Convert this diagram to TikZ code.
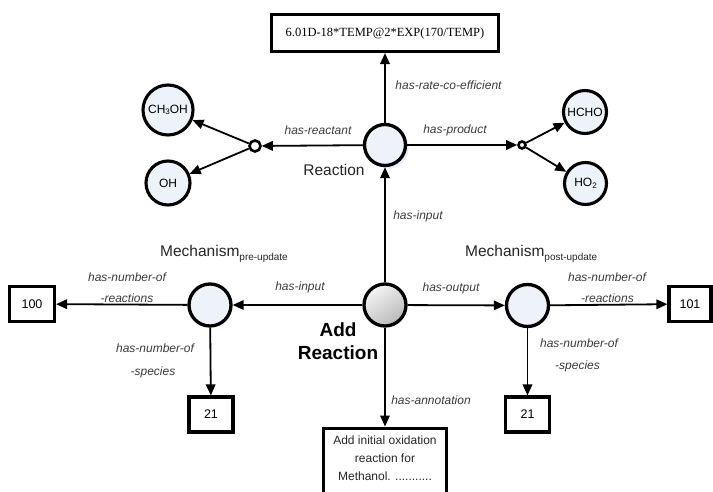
\documentclass[tikz,border=0pt]{standalone}
\usepackage{fontspec}
\setmainfont{Liberation Sans}
\newfontfamily\timesfont{Liberation Serif}
\usetikzlibrary{arrows.meta,shadows}
\definecolor{circfill}{RGB}{238,242,249}
\definecolor{labgray}{RGB}{60,60,60}
\begin{document}
\begin{tikzpicture}[x=1pt,y=-1pt,
  ent/.style={circle,draw,line width=3.3pt,fill=circfill,inner sep=0pt},
  chem/.style={circle,draw,line width=3.1pt,fill=circfill,inner sep=0pt,font=\fontsize{12}{14}\selectfont},
  junc/.style={circle,draw,line width=2.6pt,fill=white,inner sep=0pt},
  valbox/.style={rectangle,draw,line width=3.1pt,fill=white,inner sep=0pt,font=\fontsize{12.5}{15}\selectfont},
  arr/.style={line width=1.8pt,-{Triangle[length=11pt,width=9.5pt]}},
  rel/.style={font=\fontsize{12}{14}\selectfont\itshape,text=labgray,inner sep=0pt},
  title/.style={font=\fontsize{15.5}{18}\selectfont,text=black!85,inner sep=0pt}
]
\useasboundingbox (0,0) rectangle (713,492);
\clip (0,0) rectangle (713,492);
\fill[white] (0,0) rectangle (713,492);

% nodes
\node[valbox,minimum width=227,minimum height=37,font=\timesfont\fontsize{12.5}{15}\selectfont] (rate) at (385,33) {6.01D-18*TEMP@2*EXP(170/TEMP)};
\node[ent,minimum size=41,drop shadow={fill=blue!14,opacity=0.6,shadow xshift=3pt,shadow yshift=-3pt}] (reac) at (385,145) {};
\node[title] (reaclab) at (334,170) {Reaction};
\node[junc,minimum size=11] (jl) at (255,146) {};
\node[junc,minimum size=7] (jr) at (522,145) {};
\node[chem,minimum size=50] (ch3oh) at (168,110) {CH\raisebox{-1.5pt}{\fontsize{8}{9}\selectfont 3}OH};
\node[chem,minimum size=44] (oh) at (168,183) {OH};
\node[chem,minimum size=43] (hcho) at (585,112) {HCHO};
\node[chem,minimum size=42] (ho2) at (585.5,183.5) {HO\raisebox{-1.5pt}{\fontsize{8}{9}\selectfont 2}};

\node[circle,draw,line width=3.3pt,inner sep=0pt,minimum size=42,shading=axis,top color=gray!8,bottom color=gray!55,shading angle=35] (addr) at (385,305) {};
\node[font=\fontsize{19}{23}\selectfont\bfseries,align=center,inner sep=0pt] (addlab) at (338,341) {Add\\Reaction};

\node[ent,minimum size=42] (mpre) at (210,305) {};
\node[ent,minimum size=42] (mpost) at (527.5,305.5) {};
\node[title,anchor=base west] (mprelab) at (160,257) {Mechanism\raisebox{-4pt}{\fontsize{10}{12}\selectfont pre-update}};
\node[title,anchor=base west] (mpostlab) at (465,257) {Mechanism\raisebox{-4pt}{\fontsize{10}{12}\selectfont post-update}};

\node[valbox,minimum width=45,minimum height=35] (b100) at (32,304) {100};
\node[valbox,minimum width=42,minimum height=35] (b101) at (690,304) {101};
\node[valbox,minimum width=44,minimum height=35] (b21a) at (211,414.5) {21};
\node[valbox,minimum width=44,minimum height=35] (b21b) at (527.5,414.5) {21};

\node[rectangle,draw,line width=3.1pt,fill=white,minimum width=123,minimum height=100,anchor=north,inner sep=0pt] (annot) at (385,426.5) {};
\node[align=center,anchor=north,inner sep=0pt,font=\fontsize{12}{18}\selectfont,text=black!85] (annottext) at (385,436) {Add initial oxidation\\reaction for\\Methanol. ...........};

% connectors
\draw[arr] (reac) -- (rate);
\draw[arr] (addr) -- (reac);
\draw[arr] (reac) -- (jl);
\draw[arr] (jl) -- (ch3oh);
\draw[arr] (jl) -- (oh);
\draw[arr] (reac) -- (jr);
\draw[arr] (jr) -- (hcho);
\draw[arr] (jr) -- (ho2);
\draw[arr] (addr) -- (mpre);
\draw[arr] (addr) -- (mpost);
\draw[arr] (addr) -- (annot);
\draw[arr] (mpre) -- (b100);
\draw[arr] (mpre) -- (b21a);
\draw[arr] (mpost) -- (b101);
\draw[arr] (mpost) -- (b21b);

% relation labels
\node[rel] (l1) at (448.5,85) {has-rate-co-efficient};
\node[rel] (l2) at (318,130) {has-reactant};
\node[rel] (l3) at (455,130) {has-product};
\node[rel] (l4) at (418,216) {has-input};
\node[rel] (l5) at (300,287.5) {has-input};
\node[rel] (l6) at (451,288) {has-output};
\node[rel] (l7) at (127,277) {has-number-of};
\node[rel] (l8) at (127,298) {-reactions};
\node[rel] (l9) at (155,348) {has-number-of};
\node[rel] (l10) at (153,372) {-species};
\node[rel] (l11) at (607,277) {has-number-of};
\node[rel] (l12) at (607.5,298) {-reactions};
\node[rel] (l13) at (579,343) {has-number-of};
\node[rel] (l14) at (577.5,366) {-species};
\node[rel] (l15) at (431,400) {has-annotation};
\end{tikzpicture}
\end{document}
